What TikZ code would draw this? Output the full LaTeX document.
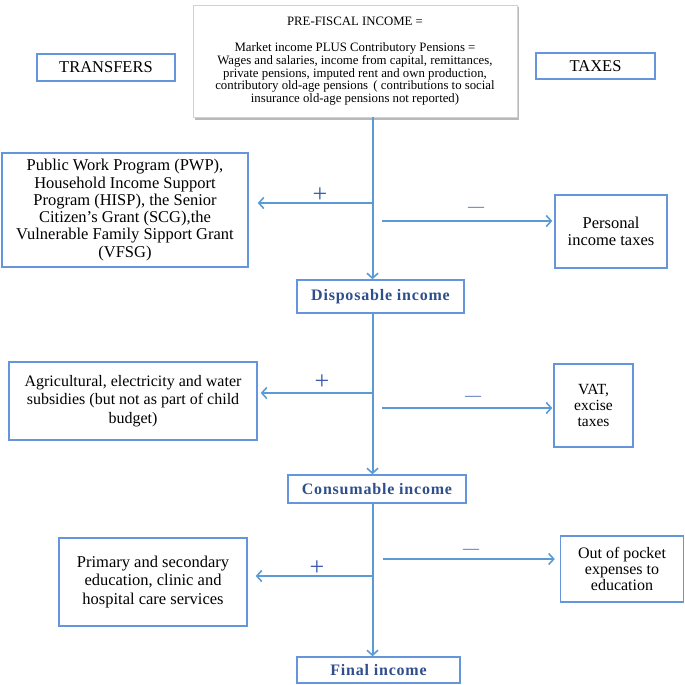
\documentclass[tikz,border=0pt]{standalone}
\usepackage{fontspec}
\setmainfont{Liberation Serif}
\usetikzlibrary{arrows.meta,shadows}
\definecolor{boxblue}{HTML}{6595DA}
\definecolor{lineblue}{HTML}{5B9BD5}
\definecolor{darkblue}{HTML}{2F4E8C}
\definecolor{signblue}{HTML}{3A5DAE}
\newcommand{\tightlines}{\lineskiplimit=-20pt\relax}
\begin{document}
\begin{tikzpicture}[x=1pt,y=-1pt,
  bx/.style={draw=boxblue, line width=1.4pt, align=center, inner sep=0pt,
    font=\fontsize{16.5}{17.5}\selectfont\tightlines},
  inc/.style={bx, font=\fontsize{16}{18}\selectfont\bfseries\addfontfeature{LetterSpace=5}, text=darkblue},
  flow/.style={draw=lineblue, line width=2pt},
  arr/.style={flow, -{Straight Barb[length=5pt,width=11pt,line width=1.6pt]}},
  sign/.style={text=signblue, inner sep=0pt, font=\fontsize{26}{26}\selectfont}]
\useasboundingbox (0,0) rectangle (685,685);
% header
\node[draw=gray!35, fill=white, line width=0.6pt,
  drop shadow={shadow xshift=2pt,shadow yshift=-2.5pt,opacity=0.55,fill=gray},
  minimum width=324pt, minimum height=112pt, align=center, inner sep=0pt,
  font=\fontsize{12.8}{12.6}\selectfont] (top) at (355,61)
  {PRE-FISCAL INCOME =\\[14pt]
   Market income PLUS Contributory Pensions =\\
   Wages and salaries, income from capital, remittances,\\
   private pensions, imputed rent and own production,\\
   contributory old-age pensions \,( contributions to social\\
   insurance old-age pensions not reported)};
\node[bx, minimum width=138pt, minimum height=27pt] (trans) at (106,67.5) {TRANSFERS};
\node[bx, minimum width=119pt, minimum height=26pt] (tax) at (595.5,66) {TAXES};
% level 1
\node[bx, minimum width=246pt, minimum height=114pt, font=\fontsize{16.5}{17.3}\selectfont\tightlines] (pwp) at (125,210)
  {Public Work Program (PWP),\\ Household Income Support\\ Program (HISP), the Senior\\
   Citizen's Grant (SCG),the\\ Vulnerable Family Sipport Grant\\ (VFSG)};
\node[bx, minimum width=112pt, minimum height=73pt, font=\fontsize{16.5}{17.7}\selectfont\tightlines] (pit) at (611,231.5)
  {Personal\\ income taxes};
\node[inc, minimum width=167pt, minimum height=33pt] (disp) at (380.5,296.5) {Disposable income};
% level 2
\node[bx, minimum width=248pt, minimum height=78pt, font=\fontsize{16}{18.3}\selectfont\tightlines] (agri) at (133,401)
  {Agricultural, electricity and water\\ subsidies (but not as part of child\\ budget)};
\node[bx, minimum width=79pt, minimum height=83pt, font=\fontsize{15.5}{16.3}\selectfont\tightlines] (vat) at (593.5,405.5)
  {VAT,\\ excise\\ taxes};
\node[inc, minimum width=178pt, minimum height=28pt] (cons) at (377,489) {Consumable income};
% level 3
\node[bx, minimum width=188pt, minimum height=88pt, font=\fontsize{16.5}{18.3}\selectfont\tightlines] (prim) at (153,582)
  {Primary and secondary\\ education, clinic and\\ hospital care services};
\node[bx, minimum width=123pt, minimum height=66pt, font=\fontsize{16}{15.8}\selectfont\tightlines] (oop) at (622,569)
  {Out of pocket\\ expenses to\\ education};
\node[inc, minimum width=163pt, minimum height=26pt] (final) at (378.5,670) {Final income};
% spine
\coordinate (spine) at (372.5,0);
\draw[arr] (top.south -| spine) -- (disp.north -| spine);
\draw[arr] (disp.south -| spine) -- (cons.north -| spine);
\draw[arr] (cons.south -| spine) -- (final.north -| spine);
% branches
\coordinate (l1) at (372.5,203);
\coordinate (r1) at (382,221);
\coordinate (l2) at (372.5,393);
\coordinate (r2) at (382,408);
\coordinate (l3) at (372.5,576);
\coordinate (r3) at (383,559);
\draw[arr, shorten >=9pt] (l1) -- (pwp.east |- l1);
\draw[arr, shorten >=2pt] (r1) -- (pit.west |- r1);
\draw[arr, shorten >=3pt] (l2) -- (agri.east |- l2);
\draw[arr, shorten >=1pt] (r2) -- (vat.west |- r2);
\draw[arr, shorten >=8pt] (l3) -- (prim.east |- l3);
\draw[arr, shorten >=5pt] (r3) -- (oop.west |- r3);
% signs
\node[sign] (p1) at (320,195) {+};
\node[sign] (p2) at (322,382) {+};
\node[sign] (p3) at (317,568) {+};
\node[sign, font=\fontsize{16}{16}\selectfont] (m1) at (476,209) {—};
\node[sign, font=\fontsize{16}{16}\selectfont] (m2) at (473,398) {—};
\node[sign, font=\fontsize{16}{16}\selectfont] (m3) at (471,551) {—};
\end{tikzpicture}
\end{document}
